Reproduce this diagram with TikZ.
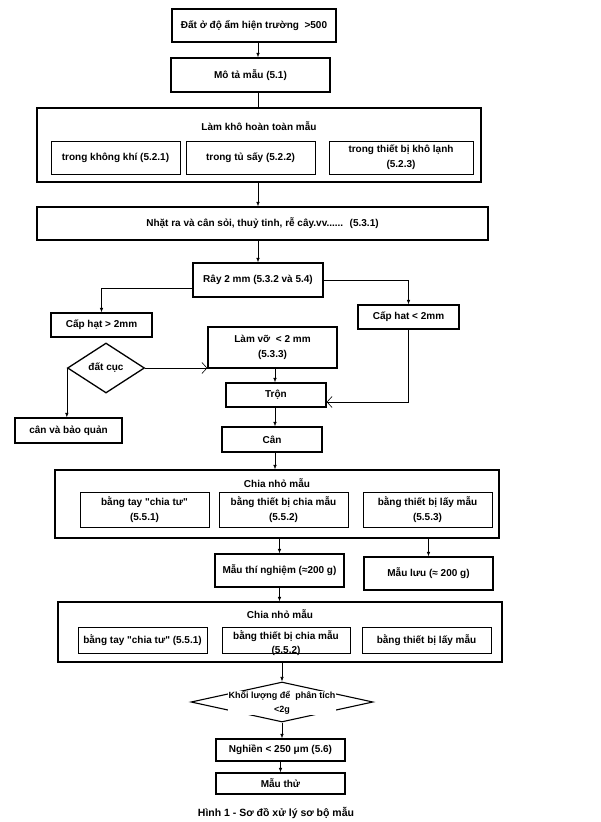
\documentclass[tikz,border=0pt]{standalone}
\usepackage{fontspec}
\setmainfont{Liberation Sans}[Ligatures=TeXOff]
\usetikzlibrary{positioning,arrows.meta,shapes.geometric,calc}

\begin{document}
\begin{tikzpicture}[x=1pt, y=-1pt,
    box/.style={rectangle, draw=black, line width=1.3pt, inner sep=2pt, align=center, font=\bfseries\fontsize{10}{15}\selectfont},
    subbox/.style={rectangle, draw=black, line width=0.7pt, inner sep=2pt, align=center, font=\bfseries\fontsize{10}{15}\selectfont},
    label/.style={align=center, font=\bfseries\fontsize{10}{15}\selectfont},
    arr/.style={-{Latex[length=4.5pt,width=3.5pt]}, line width=0.6pt},
    openarr/.style={-{Straight Barb[length=5pt,width=11pt]}, line width=0.6pt}
]
\useasboundingbox (0,0) rectangle (601,822);
\coordinate (spine) at (258,0);
\coordinate (col) at (275,0);

\node[box, minimum width=164pt, minimum height=33pt] (field) at (254,25.5) {Đất ở độ ẩm hiện trường~ >500};
\node[box, minimum width=159pt, minimum height=34pt] (desc) at (250.5,75) {Mô tả mẫu (5.1)};

% drying
\node[box, minimum width=444pt, minimum height=74pt] (dry) at (259,145) {};
\node[label] at (259,126) {Làm khô hoàn toàn mẫu};
\node[subbox, minimum width=129pt, minimum height=33pt] (air) at (115.5,157.5) {trong không khí (5.2.1)};
\node[subbox, minimum width=129pt, minimum height=33pt] (oven) at (250.5,157.5) {trong tủ sấy (5.2.2)};
\node[subbox, minimum width=144pt, minimum height=33pt] (freeze) at (401,157.5) {trong thiết bị khô lạnh\\(5.2.3)};

\node[box, minimum width=451pt, minimum height=33pt] (pick) at (262.5,223.5) {Nhặt ra và cân sỏi, thuỷ tinh, rễ cây.vv......~ (5.3.1)};
\node[box, minimum width=130pt, minimum height=34pt] (sieve) at (258,280) {Rây 2 mm (5.3.2 và 5.4)};

% sieve branches
\node[box, minimum width=101pt, minimum height=24pt] (coarse) at (101.5,325) {Cấp hạt > 2mm};
\node[box, minimum width=101pt, minimum height=24pt] (fine) at (408.5,317) {Cấp hat < 2mm};
\node[diamond, draw=black, line width=1.3pt, inner sep=0pt, minimum width=77pt, minimum height=50pt, font=\bfseries\fontsize{10}{15}\selectfont] (clod) at (106,368) {đất cục};
\node[box, minimum width=129pt, minimum height=41pt] (crush) at (272.5,347.5) {Làm vỡ~ < 2 mm\\(5.3.3)};
\node[box, minimum width=100pt, minimum height=24pt] (mix) at (276,395) {Trộn};
\node[box, minimum width=107pt, minimum height=25pt] (store) at (68.5,430.5) {cân và bảo quản};
\node[box, minimum width=100pt, minimum height=25pt] (weigh) at (272,439.5) {Cân};

% first division
\node[box, minimum width=444pt, minimum height=68pt] (split1) at (277,504) {};
\node[label] at (277,483) {Chia nhỏ mẫu};
\node[subbox, minimum width=129pt, minimum height=35pt] (hand1) at (144.5,509.5) {bằng tay "chia tư"\\(5.5.1)};
\node[subbox, minimum width=129pt, minimum height=35pt] (divider1) at (283.5,509.5) {bằng thiết bị chia mẫu\\(5.5.2)};
\node[subbox, minimum width=129pt, minimum height=35pt] (sampler1) at (427.5,509.5) {bằng thiết bị lấy mẫu\\(5.5.3)};

\node[box, minimum width=129pt, minimum height=33pt] (test) at (279.5,570.5) {Mẫu thí nghiệm (≈200 g)};
\node[box, minimum width=129pt, minimum height=33pt] (keep) at (428.5,573.5) {Mẫu lưu (≈ 200 g)};

% second division
\node[box, minimum width=444pt, minimum height=60pt] (split2) at (280,632) {};
\node[label] at (280,614) {Chia nhỏ mẫu};
\node[subbox, minimum width=129pt, minimum height=26pt] (hand2) at (142.5,640) {bằng tay "chia tư" (5.5.1)};
\node[subbox, minimum width=128pt, minimum height=26pt] (divider2) at (286,640) {};
\node[label, font=\bfseries\fontsize{10}{14}\selectfont] at (286,643) {bằng thiết bị chia mẫu\\(5.5.2)};
\node[subbox, minimum width=129pt, minimum height=26pt] (sampler2) at (426.5,640) {bằng thiết bị lấy mẫu};

\node[diamond, draw=black, line width=1.1pt, inner sep=0pt, minimum width=182pt, minimum height=40pt] (check) at (282,702) {};
\node[label, fill=white, inner sep=1pt, font=\bfseries\fontsize{9}{13.5}\selectfont] at (282,703) {Khối lượng để~ phân tích\\<2g};

\node[box, minimum width=129pt, minimum height=22pt] (grind) at (280.5,750) {Nghiền < 250 μm (5.6)};
\node[box, minimum width=129pt, minimum height=21pt] (sample) at (280.5,783.5) {Mẫu thử};
\node[label, font=\bfseries\fontsize{10.5}{13}\selectfont] (caption) at (276,813) {Hình 1 - Sơ đồ xử lý sơ bộ mẫu};

% connectors
\draw[arr] (field.south -| spine) -- (desc.north -| spine);
\draw[line width=0.6pt] (desc.south -| spine) -- (dry.north -| spine);
\draw[arr] (dry.south -| spine) -- (pick.north -| spine);
\draw[arr] (pick.south -| spine) -- (sieve.north -| spine);
\draw[arr] ([yshift=-8pt]sieve.west) -| (coarse.north);
\draw[arr] (sieve.east) -| (fine.north);
\draw[openarr] (clod.east) -- (clod.east -| crush.west);
\draw[arr] (clod.west) -- (clod.west |- store.north);
\draw[arr] (crush.south -| col) -- (mix.north -| col);
\draw[openarr] (fine.south) |- ([yshift=-7pt]mix.east);
\draw[arr] (mix.south -| col) -- (weigh.north -| col);
\draw[arr] (weigh.south -| col) -- (split1.north -| col);
\draw[arr] (split1.south -| test.north) -- (test.north);
\draw[arr] (split1.south -| keep.north) -- (keep.north);
\draw[arr] (test.south) -- (test.south |- split2.north);
\draw[arr] (split2.south -| check.north) -- (check.north);
\draw[arr] (check.south) -- (check.south |- grind.north);
\draw[arr] (grind.south) -- (sample.north);

\end{tikzpicture}
\end{document}
